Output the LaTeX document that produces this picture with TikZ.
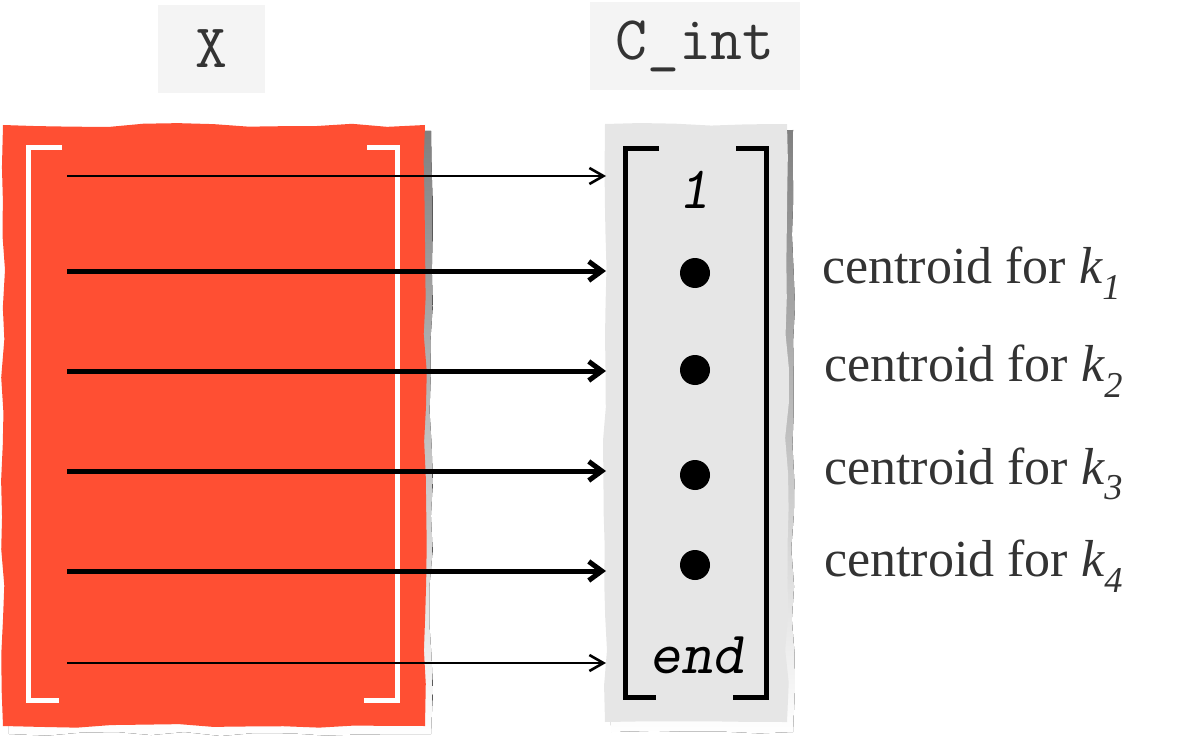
\documentclass[tikz,border=0pt]{standalone}
\usepackage{fontspec}
\setmainfont{Liberation Serif}
\usetikzlibrary{arrows.meta,decorations.pathmorphing}
\definecolor{xred}{HTML}{FF4F33}
\definecolor{shade}{HTML}{C8C8C8}
\definecolor{boxgray}{HTML}{E6E6E6}
\definecolor{hdrgray}{HTML}{F4F4F4}
\definecolor{txt}{HTML}{333333}
\begin{document}
\begin{tikzpicture}[x=1pt,y=-1pt,
  rough/.style={decorate,decoration={random steps,segment length=35pt,amplitude=2pt}},
  hdr/.style={fill=hdrgray,text=txt,font=\fontsize{62}{64}\selectfont\ttfamily,inner sep=0pt},
  wbrack/.style={draw=white,line width=5pt},
  kbrack/.style={draw=black,line width=5pt},
  thinarr/.style={draw=black,line width=2.6pt,-{Straight Barb[length=14pt,width=16pt,line width=2.6pt]}},
  thickarr/.style={draw=black,line width=5pt,-{Straight Barb[length=13pt,width=19pt,line width=5pt]}},
  dot/.style={circle,fill=black,minimum size=30pt,inner sep=0pt},
  entry/.style={font=\fontsize{60}{62}\selectfont\ttfamily\slshape,text=black,inner sep=0pt},
  lab/.style={font=\fontsize{52}{54}\selectfont,text=txt,anchor=west,inner sep=0pt}
]
\useasboundingbox (0,0) rectangle (1203,741);
\pgfmathsetseed{7}
% headers
\node[hdr,minimum width=107pt,minimum height=88pt] (hx) at (211.5,49) {X};
\node[hdr,minimum width=210pt,minimum height=88pt] (hc) at (695,46) {C\_int};
% X matrix
\fill[shade,rough] (9,131) -- (431,131) -- (431,734) -- (9,734) -- cycle;
\fill[xred,rough] (3,125) -- (425,125) -- (425,726) -- (3,726) -- cycle;
\draw[wbrack] (62,148) -- (28.5,148) -- (28.5,700) -- (59,700);
\draw[wbrack] (367,148) -- (397.5,148) -- (397.5,700) -- (364,700);
% C_int matrix
\fill[shade,rough] (611,130) -- (793,130) -- (793,732) -- (611,732) -- cycle;
\fill[boxgray,rough] (605,124) -- (787,124) -- (787,722) -- (605,722) -- cycle;
\draw[kbrack] (659,149) -- (625.5,149) -- (625.5,697) -- (656,697);
\draw[kbrack] (736,149) -- (766.5,149) -- (766.5,697) -- (733,697);
% entries
\node[entry] (c0) at (694,190) {1};
\node[dot] (c1) at (695,273) {};
\node[dot] (c2) at (695,370) {};
\node[dot] (c3) at (695,475) {};
\node[dot] (c4) at (695,565) {};
\node[entry] (c5) at (697,655) {end};
% labels
\node[lab] (l1) at (822,273) {centroid for \textit{k\textsubscript{1}}};
\node[lab] (l2) at (824,371) {centroid for \textit{k\textsubscript{2}}};
\node[lab] (l3) at (824,474) {centroid for \textit{k\textsubscript{3}}};
\node[lab] (l4) at (824,566) {centroid for \textit{k\textsubscript{4}}};
% arrow endpoints
\coordinate (s0) at (67,176);  \coordinate (e0) at (606,176);
\coordinate (s1) at (67,271);  \coordinate (e1) at (606,271);
\coordinate (s2) at (67,371);  \coordinate (e2) at (606,371);
\coordinate (s3) at (67,471);  \coordinate (e3) at (606,471);
\coordinate (s4) at (67,571);  \coordinate (e4) at (606,571);
\coordinate (s5) at (67,663);  \coordinate (e5) at (606,663);
\draw[thinarr] (s0) -- (e0);
\draw[thickarr] (s1) -- (e1);
\draw[thickarr] (s2) -- (e2);
\draw[thickarr] (s3) -- (e3);
\draw[thickarr] (s4) -- (e4);
\draw[thinarr] (s5) -- (e5);
\end{tikzpicture}
\end{document}
